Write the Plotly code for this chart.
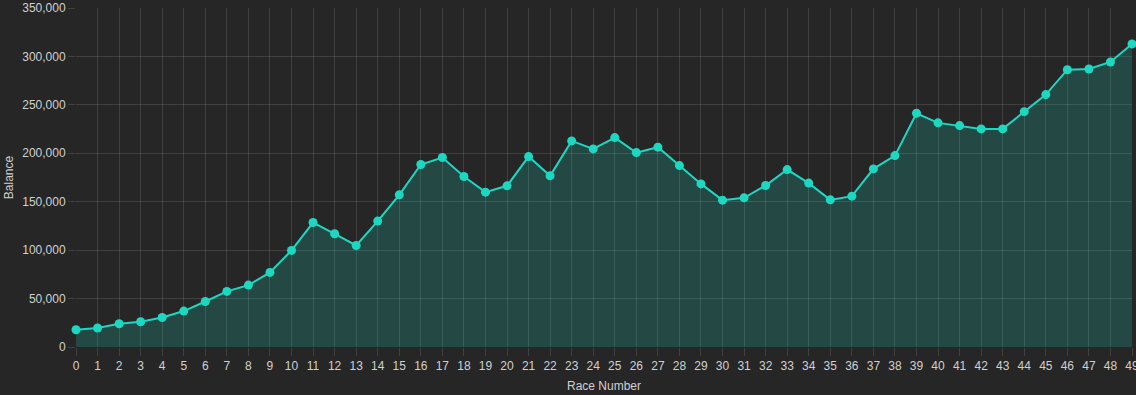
import plotly.graph_objects as go

race_numbers = list(range(50))
balance = [17800, 19600, 24000, 26100, 30500, 37100, 47000, 57400, 63900, 77000,
           99700, 128500, 116900, 104800, 130000, 157100, 188400, 195600, 176000, 159900,
           166400, 196600, 176700, 212800, 204500, 216200, 200700, 206300, 187300, 168400,
           151600, 154000, 166700, 183200, 169200, 151900, 155700, 183900, 197600, 241300,
           231400, 228600, 225200, 225200, 243000, 260600, 286300, 287000, 294300, 312900]

BG = "#262626"
GRID = "rgba(255,255,255,0.12)"
LINE = "#1dd8c1"
FONT = "Liberation Sans, Arial, sans-serif"
TXT = "#d0d0d0"

fig = go.Figure()
fig.add_trace(go.Scatter(
    x=race_numbers, y=balance, mode="lines+markers",
    line=dict(color=LINE, width=2),
    marker=dict(color=LINE, size=9),
    fill="tozeroy", fillcolor="rgba(30,216,192,0.2)",
    cliponaxis=False, hoverinfo="x+y",
))

fig.update_layout(
    width=1136, height=395,
    margin=dict(l=76, r=4, t=8, b=48),
    paper_bgcolor=BG, plot_bgcolor=BG,
    showlegend=False,
    font=dict(family=FONT, size=12, color=TXT),
    xaxis=dict(
        range=[0, 49], dtick=1, tick0=0,
        showgrid=True, gridcolor=GRID, gridwidth=1,
        ticks="outside", ticklen=8, tickcolor=GRID,
        zeroline=False, showline=False,
        automargin=False, ticklabeloverflow="allow",
        tickfont=dict(family=FONT, size=12, color=TXT),
        title=dict(text="Race Number", font=dict(family=FONT, size=12, color=TXT), standoff=9),
    ),
    yaxis=dict(
        range=[0, 350000], dtick=50000, tick0=0, tickformat=",",
        showgrid=True, gridcolor=GRID, gridwidth=1,
        ticks="outside", ticklen=7, tickcolor=GRID,
        zeroline=False, showline=False,
        automargin=False, ticklabeloverflow="allow",
        tickfont=dict(family=FONT, size=12, color=TXT),
        title=dict(text="Balance", font=dict(family=FONT, size=12, color=TXT), standoff=6),
    ),
)

fig.write_html(
    "out.html",
    config={"displayModeBar": False},
    post_script="document.body.style.margin='0';document.body.style.background='#262626';",
)
